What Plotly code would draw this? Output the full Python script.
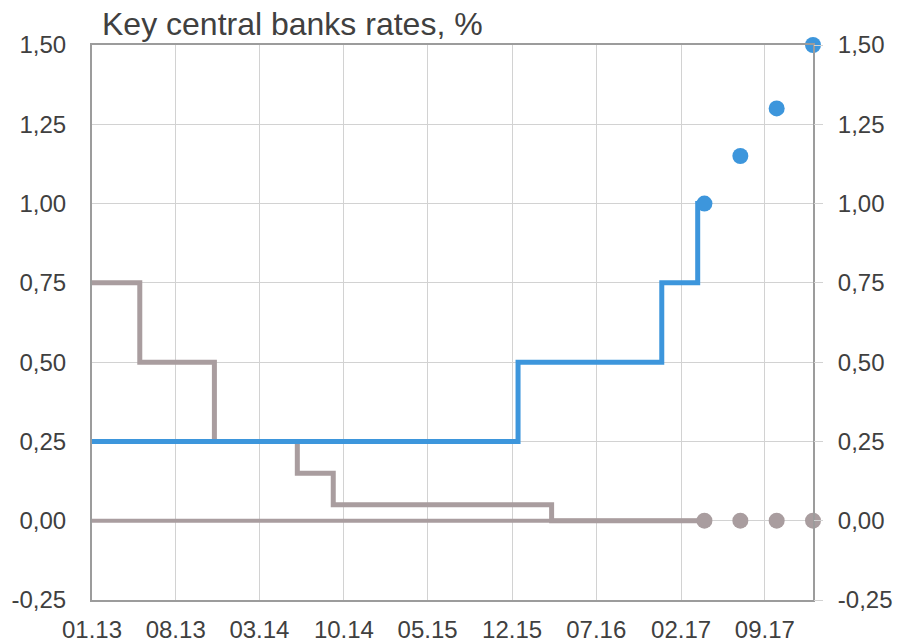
import plotly.graph_objects as go

# Fed funds (upper bound) – actual steps
fed_dates = ["2013-01-01", "2015-12-16", "2016-12-14", "2017-03-15", "2017-04-01"]
fed_vals = [0.25, 0.50, 0.75, 1.00, 1.00]
# Fed forecast points
fed_fc_dates = ["2017-04-01", "2017-07-01", "2017-10-01", "2018-01-01"]
fed_fc_vals = [1.00, 1.15, 1.30, 1.50]

# ECB refinancing rate – actual steps
ecb_dates = ["2013-01-01", "2013-05-02", "2013-11-07", "2014-06-05", "2014-09-04", "2016-03-10", "2017-04-01"]
ecb_vals = [0.75, 0.50, 0.25, 0.15, 0.05, 0.00, 0.00]
# Third series at zero
zero_dates = ["2013-01-01", "2017-04-01"]
zero_vals = [0.00, 0.00]
# ECB forecast points
ecb_fc_dates = ["2017-04-01", "2017-07-01", "2017-10-01", "2018-01-01"]
ecb_fc_vals = [0.00, 0.00, 0.00, 0.00]

y_ticks = [-0.25, 0.0, 0.25, 0.5, 0.75, 1.0, 1.25, 1.5]
y_text = [f"{v:.2f}".replace(".", ",") for v in y_ticks]

BLUE = "#3D96DC"
GREY = "#A99D9F"
GRID = "#D2D2D2"
AXIS = "#9C9C9C"
TXT = "#404040"
FONT = "Liberation Sans, Arial, sans-serif"

fig = go.Figure()
fig.add_trace(go.Scatter(x=zero_dates, y=zero_vals, mode="lines",
                         line=dict(color=GREY, width=4), showlegend=False))
fig.add_trace(go.Scatter(x=ecb_dates, y=ecb_vals, mode="lines", line_shape="hv",
                         line=dict(color=GREY, width=5), showlegend=False))
fig.add_trace(go.Scatter(x=fed_dates, y=fed_vals, mode="lines", line_shape="hv",
                         line=dict(color=BLUE, width=5), showlegend=False))
fig.add_trace(go.Scatter(x=ecb_fc_dates, y=ecb_fc_vals, mode="markers",
                         marker=dict(color=GREY, size=16), showlegend=False, cliponaxis=False))
fig.add_trace(go.Scatter(x=fed_fc_dates, y=fed_fc_vals, mode="markers",
                         marker=dict(color=BLUE, size=16), showlegend=False, cliponaxis=False))
# dummy trace for right axis
fig.add_trace(go.Scatter(x=fed_fc_dates[:1], y=fed_fc_vals[:1], yaxis="y2", mode="markers",
                         marker=dict(opacity=0), showlegend=False, hoverinfo="skip"))

fig.update_layout(
    width=901, height=643,
    margin=dict(l=92, r=88, t=45, b=43),
    paper_bgcolor="white", plot_bgcolor="white",
    font=dict(family=FONT, size=24, color=TXT),
    xaxis=dict(
        type="date", range=["2013-01-01", "2018-01-01"],
        tick0="2013-01-01", dtick="M7", tickformat="%m.%y",
        showgrid=True, gridcolor=GRID, gridwidth=1,
        showline=True, linecolor=AXIS, linewidth=2, mirror=True,
        ticks="", ticklabelstandoff=7, automargin=False,
        tickfont=dict(size=24, color=TXT),
    ),
    yaxis=dict(
        range=[-0.25, 1.5], tickvals=y_ticks, ticktext=y_text,
        showgrid=True, gridcolor=GRID, gridwidth=1, zeroline=False,
        showline=True, linecolor=AXIS, linewidth=2, mirror=True,
        ticks="", ticklabelstandoff=19, automargin=False,
        tickfont=dict(size=24, color=TXT),
    ),
    yaxis2=dict(
        range=[-0.25, 1.5], tickvals=y_ticks, ticktext=y_text,
        overlaying="y", side="right", showgrid=False, zeroline=False,
        ticks="outside", ticklen=9, tickcolor=GRID, tickwidth=1,
        ticklabelstandoff=10, automargin=False,
        tickfont=dict(size=24, color=TXT),
    ),
    annotations=[dict(
        text="Key central banks rates, %", xref="paper", yref="paper",
        x=0.011, y=1.038, xanchor="left", yanchor="middle",
        showarrow=False, font=dict(size=32, color=TXT, family=FONT),
    )],
)

fig.write_html("out.html")
